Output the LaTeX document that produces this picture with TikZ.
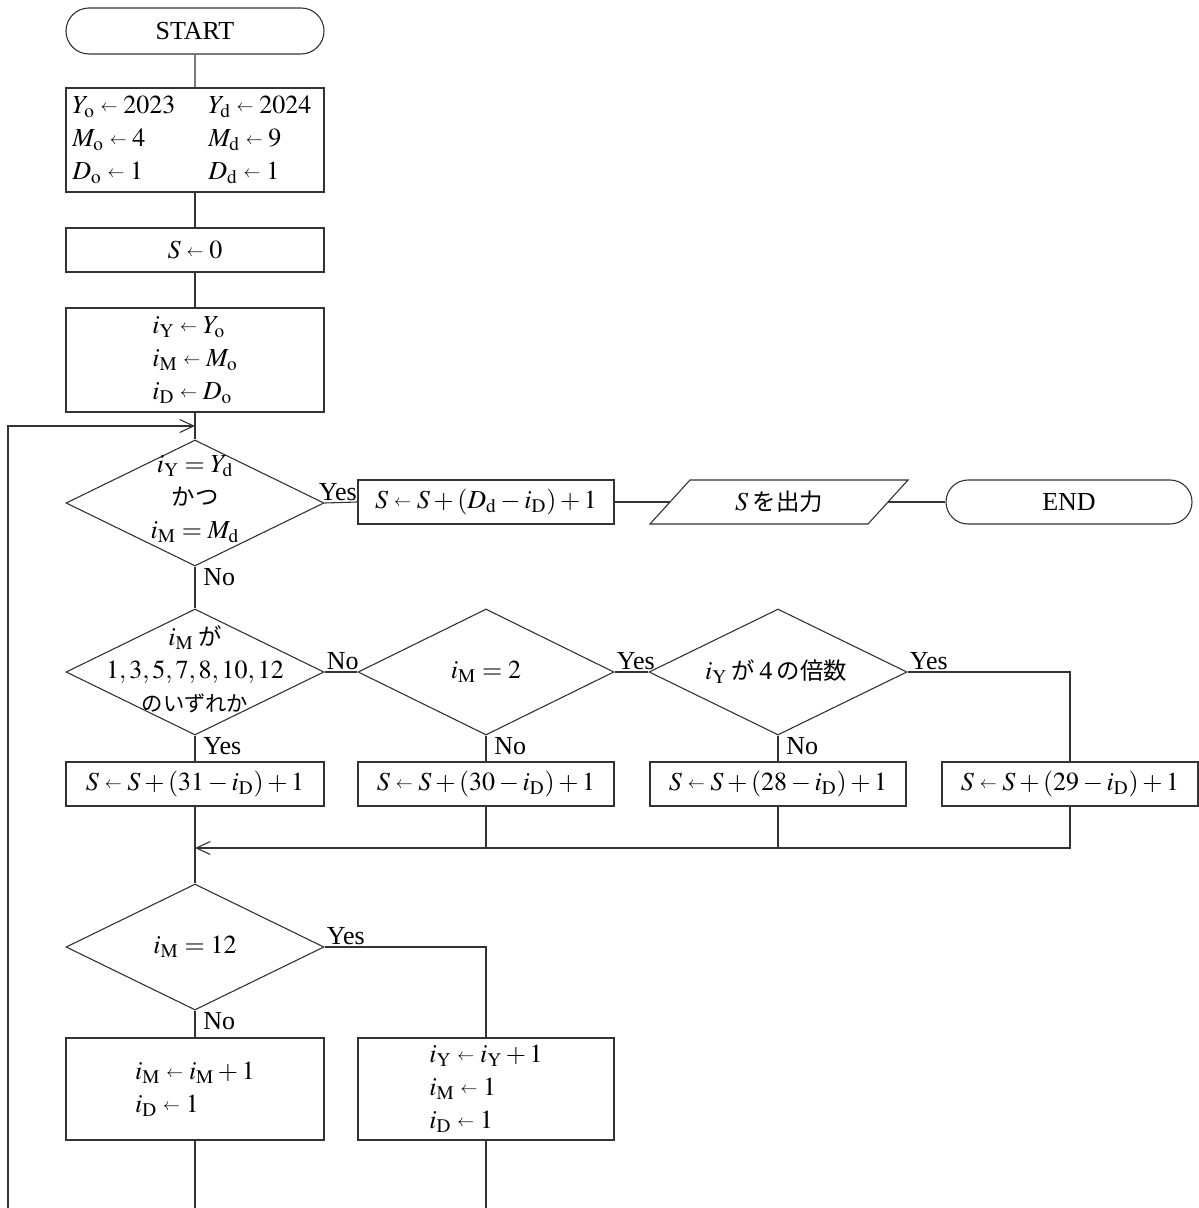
\documentclass[tikz,border=0pt]{standalone}
\usepackage{mathptmx}
\usepackage{fontspec}
\setmainfont{Liberation Serif}
\newfontfamily\jp[Scale=0.9]{Noto Sans CJK JP}
\newfontfamily\jps[Scale=0.82]{Noto Sans CJK JP}
\usetikzlibrary{arrows.meta,shapes.geometric,shapes.misc,calc}
\newcommand{\sr}[1]{_{\mathrm{#1}}}
\newcommand{\la}{\mathrel{\raisebox{0.15ex}{\scalebox{0.65}{$\leftarrow$}}}}
\begin{document}
\begin{tikzpicture}[x=0.5pt,y=-0.5pt,
  every node/.style={font=\fontsize{13}{16.5}\selectfont},
  ln/.style={draw=black!80, line width=0.55pt},
  proc/.style={ln, rectangle, minimum width=129pt, minimum height=22pt, inner sep=0pt},
  term/.style={ln, rounded rectangle, minimum width=129pt, minimum height=23pt, inner sep=0pt},
  dec/.style={ln, diamond, minimum width=129pt, minimum height=63pt, inner sep=0pt},
  lab/.style={inner sep=1pt},
  arr/.style={-{Straight Barb[length=7pt,width=6.5pt]}}]
\useasboundingbox (0,0) rectangle (1198,1208);

% top column
\node[term] (start) at (195,31) {START};
\node[proc, minimum height=52pt] (init) at (195,140) {};
\node[anchor=west, align=left, inner sep=0pt] (initt) at (72,140)
  {\makebox[68pt][l]{$Y\sr{o}\la 2023$}$Y\sr{d}\la 2024$\\
   \makebox[68pt][l]{$M\sr{o}\la 4$}$M\sr{d}\la 9$\\
   \makebox[68pt][l]{$D\sr{o}\la 1$}$D\sr{d}\la 1$};
\node[proc] (s0) at (195,250) {$S\la 0$};
\node[proc, minimum height=52pt] (init2) at (195,360) {};
\node[align=left, inner sep=0pt] (init2t) at (195,360)
  {$i\sr{Y}\la Y\sr{o}$\\ $i\sr{M}\la M\sr{o}$\\ $i\sr{D}\la D\sr{o}$};

% first decision row
\node[dec] (d1) at (195,503) {};
\node[align=center, inner sep=0pt] (d1t) at (195,499)
  {$i\sr{Y}=Y\sr{d}$\\ {\jp かつ}\\ $i\sr{M}=M\sr{d}$};
\node[proc, minimum width=128pt] (b1) at (486,502) {$S\la S+(D\sr{d}-i\sr{D})+1$};
\draw[ln] (650,524) -- (690,480) -- (908,480) -- (868,524) -- cycle;
\node (out) at (779,502) {$S$\,{\jp を出力}};
\coordinate (outL) at (670,502);
\coordinate (outR) at (888,502);
\node[term, minimum width=123pt, minimum height=22pt] (end) at (1069,502) {END};

% second decision row
\node[dec] (d2) at (195,672) {};
\node[align=center, inner sep=0pt] (d2t) at (195,669)
  {$i\sr{M}$\,{\jp が}\\ $1, 3, 5, 7, 8, 10, 12$\\ {\jps のいずれか}};
\node[dec, minimum width=128pt] (d3) at (486,672) {};
\node (d3t) at (486,672) {$i\sr{M}=2$};
\node[dec] (d4) at (778,672) {};
\node (d4t) at (776,672) {$i\sr{Y}$\,{\jp が}\,4\,{\jp の倍数}};

% assignment row
\node[proc] (bA) at (195,784) {$S\la S+(31-i\sr{D})+1$};
\node[proc, minimum width=128pt] (bB) at (486,784) {$S\la S+(30-i\sr{D})+1$};
\node[proc, minimum width=128pt] (bC) at (778,784) {$S\la S+(28-i\sr{D})+1$};
\node[proc, minimum width=128pt] (bD) at (1070,784) {$S\la S+(29-i\sr{D})+1$};
\coordinate (m1) at (195,848);

% last decision
\node[dec] (d5) at (195,947) {};
\node (d5t) at (195,947) {$i\sr{M}=12$};
\node[proc, minimum height=51pt] (bE) at (195,1089) {};
\node[align=left, inner sep=0pt] (bEt) at (195,1089)
  {$i\sr{M}\la i\sr{M}+1$\\ $i\sr{D}\la 1$};
\node[proc, minimum width=128pt, minimum height=51pt] (bF) at (486,1089) {};
\node[align=left, inner sep=0pt] (bFt) at (486,1089)
  {$i\sr{Y}\la i\sr{Y}+1$\\ $i\sr{M}\la 1$\\ $i\sr{D}\la 1$};

\coordinate (eE) at (195,1208);
\coordinate (eF) at (486,1208);
\coordinate (lb) at (8,1208);
\coordinate (j1) at (195,426);

% connectors
\draw[ln] (start) -- (init);
\draw[ln] (init) -- (s0);
\draw[ln] (s0) -- (init2);
\draw[ln] (init2) -- (d1.north);
\draw[ln, arr] (lb) |- (j1);
\draw[ln] (d1.east) -- (b1.west);
\draw[ln] (b1.east) -- (outL);
\draw[ln] (outR) -- (end.west);
\draw[ln] (d1.south) -- (d2.north);
\draw[ln] (d2.east) -- (d3.west);
\draw[ln] (d3.east) -- (d4.west);
\draw[ln] (d4.east) -| (bD.north);
\draw[ln] (d2.south) -- (bA.north);
\draw[ln] (d3.south) -- (bB.north);
\draw[ln] (d4.south) -- (bC.north);
\draw[ln] (bA.south) -- (d5.north);
\draw[ln, arr] (bD.south) |- (m1);
\draw[ln] (bC.south) -- (bC.south |- m1);
\draw[ln] (bB.south) -- (bB.south |- m1);
\draw[ln] (d5.south) -- (bE.north);
\draw[ln] (d5.east) -| (bF.north);
\draw[ln] (bE.south) -- (eE);
\draw[ln] (bF.south) -- (eF);

% labels
\node[lab, anchor=south west] at ($(d1.east)+(-8,0)$) {Yes};
\node[lab, anchor=north west] at ($(d1.south)+(6,0)$) {No};
\node[lab, anchor=south west] at ($(d2.east)+(0,0)$) {No};
\node[lab, anchor=south west] at ($(d3.east)+(0,0)$) {Yes};
\node[lab, anchor=south west] at ($(d4.east)+(0,0)$) {Yes};
\node[lab, anchor=north west] at ($(d2.south)+(6,0)$) {Yes};
\node[lab, anchor=north west] at ($(d3.south)+(6,0)$) {No};
\node[lab, anchor=north west] at ($(d4.south)+(6,0)$) {No};
\node[lab, anchor=south west] at ($(d5.east)+(0,0)$) {Yes};
\node[lab, anchor=north west] at ($(d5.south)+(6,0)$) {No};
\end{tikzpicture}
\end{document}
